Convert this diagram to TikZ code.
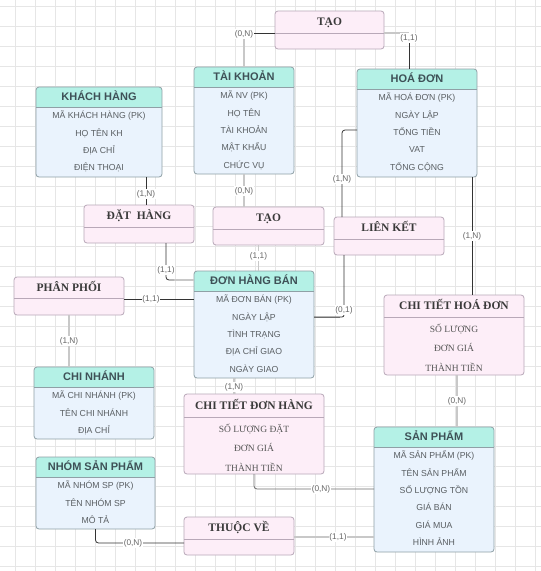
\documentclass[tikz,border=0pt]{standalone}
\usepackage{fontspec}
\setmainfont{Liberation Serif}
\setsansfont{Liberation Sans}
\usetikzlibrary{calc}
\definecolor{hdr}{HTML}{B4F1E6}
\definecolor{bdy}{HTML}{EAF3FD}
\definecolor{eb}{HTML}{8FA0A6}
\definecolor{rf}{HTML}{FDEEF8}
\definecolor{rb}{HTML}{B8A8B8}
\definecolor{et}{HTML}{3E5157}
\definecolor{at}{HTML}{5A5F63}
\definecolor{rt}{HTML}{3A3A3A}
\definecolor{ra}{HTML}{555555}
\definecolor{grd}{HTML}{E6E6E6}
\definecolor{dkc}{HTML}{333333}
\definecolor{mdc}{HTML}{6E6E6E}
\definecolor{ltc}{HTML}{C8C8C8}
\definecolor{lb}{HTML}{666666}
\tikzset{
 ent/.style={draw=eb, fill=bdy, line width=0.8pt, rounded corners=3pt, inner sep=0pt, outer sep=0pt,
   path picture={\fill[hdr, sharp corners] (path picture bounding box.north west) rectangle ([yshift=-#1pt]path picture bounding box.north east);
     \draw[eb, line width=0.8pt, sharp corners] ([yshift=-#1pt]path picture bounding box.north west) -- ([yshift=-#1pt]path picture bounding box.north east);}},
 rel/.style={draw=rb, fill=rf, line width=0.8pt, rounded corners=3pt, inner sep=0pt, outer sep=0pt,
   path picture={\draw[rb, line width=0.8pt, sharp corners] ([yshift=-#1pt]path picture bounding box.north west) -- ([yshift=-#1pt]path picture bounding box.north east);}},
 etitle/.style={font=\sffamily\bfseries\fontsize{11}{13}\selectfont, text=et, inner sep=0pt, text height=7.9pt, text depth=0pt},
 attr/.style={font=\sffamily\fontsize{8.7}{10}\selectfont, text=at, inner sep=0pt, text height=6.2pt, text depth=0pt},
 rtitle/.style={font=\bfseries\fontsize{11.5}{13}\selectfont, text=rt, inner sep=0pt, text height=7.7pt, text depth=0pt},
 rattr/.style={font=\fontsize{9.5}{11}\selectfont, text=ra, inner sep=0pt, text height=6.3pt, text depth=0pt},
 lbl/.style={font=\sffamily\fontsize{8.3}{10}\selectfont, text=lb, fill=white, inner sep=0.8pt},
 dkl/.style={draw=dkc, line width=0.8pt},
 mdl/.style={draw=mdc, line width=0.8pt},
 ltl/.style={draw=ltc, line width=1.3pt},
}
\newcommand\entity[7]{%
 \node[ent=20, minimum width=#4pt, minimum height=#5pt, anchor=north west] (#1) at (#2,#3) {};
 \node[etitle] (#1-t) at ($(#1.north)+(0,10)$) {#6};
 \foreach \r [count=\i] in {#7} {\node[attr] (#1-\i) at ($(#1.north)+(0,{11.1+17.4*\i})$) {\r};}
}
\newcommand\relation[7]{%
 \node[rel=#6, minimum width=#4pt, minimum height=#5pt, anchor=north west] (#1) at (#2,#3) {};
 \node[rtitle] (#1-t) at ($(#1.north)+(0,#6/2)$) {#7};
}
\newcommand\relrows[3]{%
 \foreach \r [count=\i] in {#3} {\node[rattr] (#1-\i) at ($(#1.north)+(0,{#2-7.5+19.5*\i})$) {\r};}
}
\begin{document}
\begin{tikzpicture}[x=1pt,y=-1pt]
\useasboundingbox (0,0) rectangle (541,571);
\fill[white] (0,0) rectangle (541,571);
\foreach \k in {0,...,26} {\draw[grd, line width=0.7pt] ({15+20*\k},0) -- ({15+20*\k},571);}
\foreach \k in {0,...,28} {\draw[grd, line width=0.7pt] (0,{6+20*\k}) -- (541,{6+20*\k});}

% entities
\entity{tk}{194}{67}{100}{107}{TÀI KHOẢN}{MÃ NV (PK),HỌ TÊN,TÀI KHOẢN,MẬT KHẨU,CHỨC VỤ}
\entity{kh}{36}{87}{126}{90}{KHÁCH HÀNG}{MÃ KHÁCH HÀNG (PK),HỌ TÊN KH,ĐỊA CHỈ,ĐIỆN THOẠI}
\entity{hd}{357}{69}{120}{108}{HOÁ ĐƠN}{MÃ HOÁ ĐƠN (PK),NGÀY LẬP,TỔNG TIỀN,VAT,TỔNG CỘNG}
\entity{dhb}{194}{271}{120}{107}{ĐƠN HÀNG BÁN}{MÃ ĐƠN BÁN (PK),NGÀY LẬP,TÌNH TRẠNG,ĐỊA CHỈ GIAO,NGÀY GIAO}
\entity{cn}{34}{367}{120}{72}{CHI NHÁNH}{MÃ CHI NHÁNH (PK),TÊN CHI NHÁNH,ĐỊA CHỈ}
\entity{nsp}{36}{457}{119}{72}{NHÓM SẢN PHẨM}{MÃ NHÓM SP (PK),TÊN NHÓM SP,MÔ TẢ}
\entity{sp}{374}{427}{120}{125}{SẢN PHẨM}{MÃ SẢN PHẨM (PK),TÊN SẢN PHẨM,SỐ LƯỢNG TỒN,GIÁ BÁN,GIÁ MUA,HÌNH ẢNH}

% relationships
\relation{tao1}{275}{11}{109}{38}{22}{TẠO}
\relation{dat}{84}{205}{110}{38}{22}{ĐẶT\ \ HÀNG}
\relation{tao2}{213}{207}{111}{38}{22}{TẠO}
\relation{lk}{334}{217}{110}{38}{22}{LIÊN KẾT}
\relation{pp}{14}{277}{110}{38}{21}{PHÂN PHỐI}
\relation{cthd}{384}{295}{140}{80}{22}{CHI TIẾT HOÁ ĐƠN}
\relrows{cthd}{22}{SỐ LƯỢNG,ĐƠN GIÁ,THÀNH TIỀN}
\relation{ctdh}{184}{394}{140}{80}{23}{CHI TIẾT ĐƠN HÀNG}
\relrows{ctdh}{23}{SỐ LƯỢNG ĐẶT,ĐƠN GIÁ,THÀNH TIỀN}
\relation{tv}{184}{517}{110}{38}{22}{THUỘC VỀ}

% a: TAO - TAI KHOAN
\coordinate (ca) at ([yshift=-3pt]tao1.west);
\coordinate (ka) at (ca -| tk.north);
\draw[dkl] (ca) -- (ka);
\draw[ltl] (ka) -- (tk.north);
\node[lbl] (la) at ([yshift=-1pt]ka) {(0,N)};
% b: TAO - HOA DON
\coordinate (cb) at ([yshift=-3pt]tao1.east);
\coordinate (hdn) at ([xshift=-8pt]hd.north);
\coordinate (kb) at (cb -| hdn);
\draw[ltl] (cb) -- (kb);
\draw[dkl] (kb) -- (hdn);
\node[lbl] (lb1) at ([yshift=-5pt]kb) {(1,1)};
% c: KHACH HANG - DAT HANG
\coordinate (khs) at ([xshift=47pt]kh.south);
\draw[dkl] (khs) -- (khs |- dat.north);
\node[lbl] (lc) at ([yshift=-17pt]khs) {(1,N)};
% d: TAI KHOAN - TAO
\draw[ltl] (tk.south) -- (tk.south |- tao2.north);
\node[lbl] (ld) at ([yshift=-17pt]tk.south) {(0,N)};
% e: DAT HANG - DON HANG BAN
\coordinate (dats) at ([xshift=27pt]dat.south);
\coordinate (dhw1) at ([yshift=-9pt]dhb.north west);
\draw[dkl, rounded corners=3pt] (dats) |- ([xshift=-20pt]dhw1);
\draw[ltl] ([xshift=-20pt]dhw1) -- (dhw1);
\node[lbl] (le) at ([yshift=-27pt]dats) {(1,1)};
% f: TAO - DON HANG BAN
\coordinate (t2s) at ([xshift=-10pt]tao2.south);
\draw[ltl] (t2s) -- (t2s |- dhb.north);
\node[lbl] (lf) at ([yshift=-11pt]t2s) {(1,1)};
% g: PHAN PHOI - DON HANG BAN
\coordinate (ppe) at ([yshift=-3pt]pp.east);
\draw[dkl] (ppe) -- (ppe -| dhb.west);
\node[lbl] (lg) at ([xshift=27pt]ppe) {(1,1)};
% h: PHAN PHOI - CHI NHANH
\draw[ltl] (pp.south) -- (pp.south |- cn.north);
\node[lbl] (lh) at ([yshift=-26pt]pp.south) {(1,N)};
% i: HOA DON - LIEN KET
\coordinate (hdw) at ([yshift=-61pt]hd.north west);
\coordinate (lkn) at ([xshift=8pt]lk.north west);
\draw[dkl, rounded corners=3pt] (hdw) -| (lkn);
\node[lbl] (li) at ([yshift=38pt]lkn) {(1,N)};
% j: LIEN KET - DON HANG BAN
\coordinate (lks) at ([xshift=10pt]lk.south west);
\coordinate (dhe) at ([yshift=-46pt]dhb.north east);
\coordinate (kj) at (lks |- dhe);
\draw[dkl, rounded corners=2pt] (lks) |- (dhe);
\draw[mdl] ([xshift=-4pt]kj) -- (dhe);
\node[lbl] (lj) at ([yshift=7pt]kj) {(0,1)};
% k: HOA DON - CHI TIET HOA DON
\coordinate (hds) at ([xshift=55pt]hd.south);
\draw[dkl] (hds) -- (hds |- cthd.north);
\node[lbl] (lk1) at ([yshift=-59pt]hds) {(1,N)};
% l: CHI TIET HOA DON - SAN PHAM
\coordinate (cts) at ([xshift=3pt]cthd.south);
\draw[ltl] (cts) -- (cts |- sp.north);
\node[lbl] (ll) at ([yshift=-26pt]cts) {(0,N)};
% m: DON HANG BAN - CHI TIET DON HANG
\coordinate (dhs) at ([xshift=-20pt]dhb.south);
\draw[ltl] (dhs) -- (dhs |- ctdh.north);
\node[lbl] (lm) at ([yshift=-9pt]dhs) {(1,N)};
% n: CHI TIET DON HANG - SAN PHAM
\coordinate (spw1) at ([yshift=-62pt]sp.north west);
\draw[mdl, rounded corners=3pt] (ctdh.south) |- (spw1);
\node[lbl] (ln) at ([xshift=-53pt]spw1) {(0,N)};
% o: NHOM SAN PHAM - THUOC VE
\coordinate (tvw) at ([yshift=-26pt]tv.north west);
\draw[dkl, rounded corners=3pt] (nsp.south) |- (tvw);
\node[lbl] (lo) at ([xshift=-51pt]tvw) {(0,N)};
% p: THUOC VE - SAN PHAM
\coordinate (tve) at ([yshift=-20pt]tv.north east);
\draw[ltl] (tve) -- (tve -| sp.west);
\node[lbl] (lp) at ([xshift=44pt]tve) {(1,1)};
\end{tikzpicture}
\end{document}
